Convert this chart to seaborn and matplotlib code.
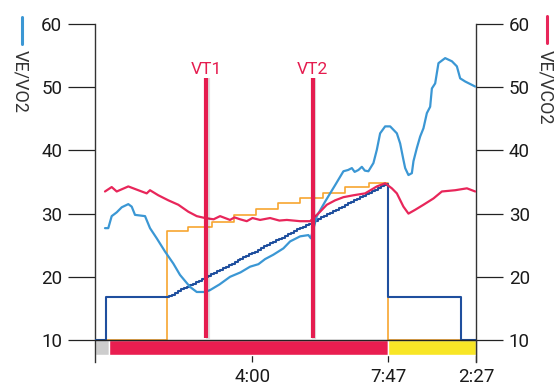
import numpy as np
import pandas as pd
import matplotlib
matplotlib.use("Agg")
import matplotlib.pyplot as plt
import matplotlib.patheffects as pe
from matplotlib.lines import Line2D
import seaborn as sns

# tiempo en segundos desde el inicio del esfuerzo
vo2_t = [-6.7, -1.2, 4.5, 12.9, 21.3, 32.3, 38.0, 43.5, 60.3, 68.6, 79.8, 93.7, 107.6,
         118.8, 135.6, 146.8, 160.7, 169.1, 185.0, 202.5, 220.0, 236.0, 250.0, 261.1,
         275.0, 291.8, 303.0, 319.7, 333.6, 337.6, 347.7, 361.6, 378.3, 392.2, 400.0,
         406.3, 411.0, 417.3, 423.0, 428.0, 434.0, 442.4, 448.1, 453.6, 462.0, 470.4,
         481.6, 487.1, 492.6, 495.5, 501.0, 506.7, 509.4, 515.1, 520.6, 526.1, 531.8,
         537.3, 540.2, 545.7, 551.2, 562.4, 573.7, 582.0, 587.5, 595.9, 612.7]
vo2_v = [27.7, 27.7, 29.6, 30.2, 31.0, 31.5, 31.1, 29.8, 29.6, 27.7, 26.1, 24.0, 22.1,
         20.3, 18.4, 17.6, 17.6, 17.9, 18.8, 20.0, 20.7, 21.6, 22.0, 22.8,
         23.5, 24.5, 25.6, 26.4, 26.6, 26.1, 29.6, 31.9, 34.5, 36.7, 36.9,
         37.2, 36.6, 36.9, 37.4, 36.8, 36.7, 38.0, 40.1, 42.7, 43.8, 43.8,
         42.7, 41.1, 38.5, 37.2, 36.1, 36.4, 38.3, 40.4, 42.2, 43.5, 45.9,
         46.9, 49.8, 50.6, 53.8, 54.6, 54.1, 53.3, 51.4, 50.9, 50.1]

vco2_t = [-6.7, 4.5, 12.9, 32.3, 49.0, 63.1, 68.6, 82.5, 99.3, 116.0, 132.7, 146.8,
          160.7, 175.0, 185.8, 202.5, 210.0, 219.3, 230.5, 240.0, 252.8, 269.5, 285.0,
          297.5, 319.7, 336.5, 353.2, 364.4, 378.3, 392.2, 408.9, 428.5, 448.1, 462.0,
          473.2, 481.6, 492.6, 501.0, 512.2, 526.1, 542.9, 556.9, 579.2, 598.8, 612.7]
vco2_v = [33.5, 34.2, 33.5, 34.3, 33.7, 33.2, 33.7, 32.9, 32.1, 31.4, 30.3, 29.6,
          29.3, 29.1, 29.6, 29.0, 29.4, 29.1, 28.8, 29.3, 29.0, 29.3, 28.9,
          29.0, 28.8, 28.8, 30.3, 31.4, 32.1, 32.6, 32.9, 33.2, 34.3, 34.8,
          34.0, 33.2, 31.1, 30.0, 30.6, 31.4, 32.4, 33.5, 33.7, 34.0, 33.5]

carga_t = [-23.4, 96.6, 131.6, 171.8, 209.0, 245.6, 282.9, 319.7, 358.2, 395.0, 435.0, 467.0, 614.0]
carga_v = [10, 27.2, 27.9, 28.7, 29.8, 30.7, 31.7, 32.5, 33.3, 34.2, 34.9, 10, 10]

fc_t = [-23.4, -5, 96.6,
        100, 105, 110, 115, 120, 125, 130, 135, 140, 145, 150, 155, 160, 165, 170, 175,
        180, 185, 190, 195, 200, 205, 210, 215, 220, 225, 230, 235, 240, 245, 250, 255,
        260, 265, 270, 275, 280, 285, 290, 295, 300, 305, 310, 315, 320, 325, 330, 335,
        340, 345, 350, 355, 360, 365, 370, 375, 380, 385, 390, 395, 400, 405, 410, 415,
        420, 425, 430, 435, 440, 445, 450, 455, 460, 465,
        467, 589, 614]
fc_v = [10, 16.8, 16.8,
        17.0, 17.2, 17.5, 17.7, 18.0, 18.2, 18.4, 18.7, 18.9, 19.2, 19.4, 19.6, 19.9, 20.1, 20.4, 20.6,
        20.9, 21.1, 21.4, 21.6, 21.9, 22.1, 22.3, 22.6, 22.8, 23.1, 23.3, 23.6, 23.8, 24.0, 24.3, 24.5,
        24.8, 25.0, 25.3, 25.5, 25.8, 26.0, 26.2, 26.5, 26.7, 27.0, 27.2, 27.5, 27.7, 27.9, 28.2, 28.4,
        28.7, 28.9, 29.2, 29.4, 29.6, 29.9, 30.1, 30.4, 30.6, 30.9, 31.1, 31.3, 31.6, 31.8, 32.1, 32.3,
        32.6, 32.8, 33.1, 33.3, 33.5, 33.8, 34.0, 34.3, 34.5, 34.7,
        16.8, 10, 10]

umbrales = ["VT1", "VT2"]
umbral_t = [163, 341]

fases_bordes = [-23.4, 0, 467, 614]
fases_colores = ["#cdcdcd", "#e91e50", "#f8e626"]

xticks = [240, 467, 614]
xtick_labels = ["4:00", "7:47", "2:27"]
yticks = [10, 20, 30, 40, 50, 60]

sns.set_style("white")
plt.rcParams["font.family"] = ["Roboto", "DejaVu Sans"]

fig = plt.figure(figsize=(5.54, 3.85), dpi=100)
ax = fig.add_axes([0.1715, 0.0597, 0.6877, 0.878])

# barra de fases
anchos = np.diff(fases_bordes)
ax.barh(y=8.81, width=anchos, left=fases_bordes[:-1], height=2.37,
        color=fases_colores, align="center", zorder=1)

sns.lineplot(x=carga_t, y=carga_v, ax=ax, color="#f7a530", lw=1.2,
             drawstyle="steps-post", estimator=None, sort=False, zorder=3)
sns.lineplot(x=fc_t, y=fc_v, ax=ax, color="#1f4f9e", lw=1.5,
             drawstyle="steps-post", estimator=None, sort=False, zorder=3)
ax.axhline(10, color="#222222", lw=1.0, zorder=3.5)
sns.lineplot(x=vo2_t, y=vo2_v, ax=ax, color="#3b97d4", lw=1.6,
             estimator=None, sort=False, zorder=4)
sns.lineplot(x=vco2_t, y=vco2_v, ax=ax, color="#e8265a", lw=1.6,
             estimator=None, sort=False, zorder=4)

sombra = [pe.SimpleLineShadow(offset=(0.8, -0.5), alpha=0.12), pe.Normal()]
for nombre, t in zip(umbrales, umbral_t):
    ax.plot([t, t], [10.3, 51.5], color="#e51c4f", lw=3.0, zorder=5,
            solid_capstyle="butt", path_effects=sombra)
    ax.text(t, 52.1, nombre, color="#e51c4f", fontsize=12.5, ha="center", va="baseline")

ax.set_xlim(fases_bordes[0], fases_bordes[-1])
ax.set_ylim(6.52, 60)
ax.set_yticks(yticks)
ax.set_xticks(xticks)
ax.set_xticklabels(xtick_labels)

for s in ["top", "bottom"]:
    ax.spines[s].set_visible(False)
for s in ["left", "right"]:
    ax.spines[s].set_color("#333333")
    ax.spines[s].set_linewidth(1.0)

ax.tick_params(axis="y", which="both", left=True, right=True, labelleft=True,
               labelright=True, direction="out", length=19.3, width=0.9,
               color="#222222", pad=4.3, labelsize=13.5, labelcolor="#1a1a1a")
ax.tick_params(axis="x", bottom=True, direction="in", length=15.8, width=0.9,
               color="#222222", pad=4, labelsize=13.5, labelcolor="#1a1a1a")
ax.set_xlabel("")
ax.set_ylabel("")

# etiquetas de ejes verticales con marca de color
fig.text(0.036, 0.870, "VE/VO2", rotation=270, ha="center", va="top",
         fontsize=13, color="#333333")
fig.add_artist(Line2D([0.039, 0.039], [1 - 16.5 / 385, 1 - 43.5 / 385],
                      color="#3b97d4", lw=2.2, transform=fig.transFigure))
fig.text(0.984, 0.870, "VE/VCO2", rotation=270, ha="center", va="top",
         fontsize=13, color="#333333")
fig.add_artist(Line2D([0.987, 0.987], [1 - 16 / 385, 1 - 43 / 385],
                      color="#e8265a", lw=2.2, transform=fig.transFigure))

fig.savefig("out.png", dpi=100)
